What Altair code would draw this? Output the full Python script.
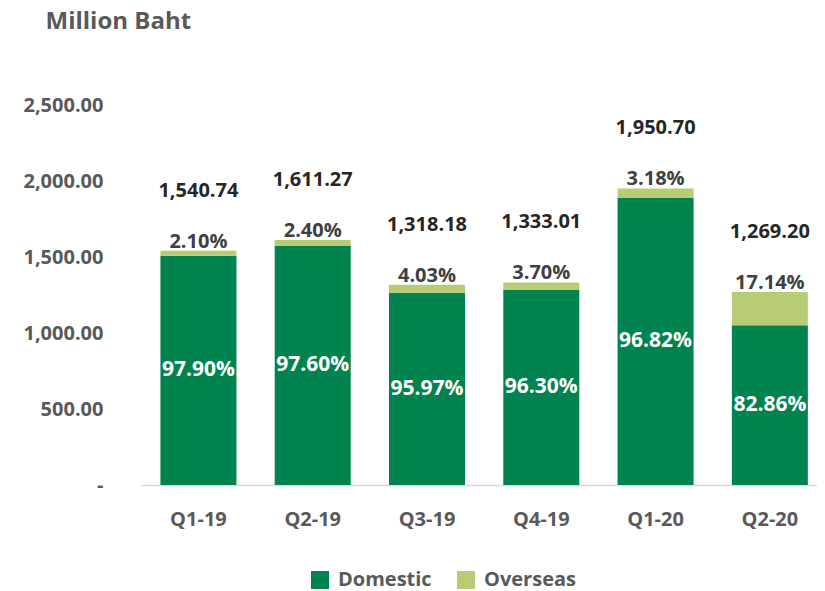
import altair as alt
import pandas as pd

quarters = ["Q1-19", "Q2-19", "Q3-19", "Q4-19", "Q1-20", "Q2-20"]
totals = [1540.74, 1611.27, 1318.18, 1333.01, 1950.70, 1269.20]
overseas_pct = [2.10, 2.40, 4.03, 3.70, 3.18, 17.14]
domestic_pct = [97.90, 97.60, 95.97, 96.30, 96.82, 82.86]
segments = ["Domestic", "Overseas"]
colors = ["#00834F", "#B8CC74"]

rows = []
for q, t, op, dp in zip(quarters, totals, overseas_pct, domestic_pct):
    rows.append({"quarter": q, "segment": "Domestic", "value": t * dp / 100, "ord": 0})
    rows.append({"quarter": q, "segment": "Overseas", "value": t * op / 100, "ord": 1})
long_df = pd.DataFrame(rows)

wide_df = pd.DataFrame({
    "quarter": quarters,
    "total": totals,
    "op": overseas_pct,
    "dp": domestic_pct,
})

FONT = "Open Sans"
GRAY = "#595959"

x_enc = alt.X(
    "quarter:N",
    sort=quarters,
    title=None,
    scale=alt.Scale(paddingInner=0.335, paddingOuter=0.125, align=0.68),
    axis=alt.Axis(
        labelAngle=0, labelFont=FONT, labelFontSize=20, labelFontWeight="bold",
        labelColor=GRAY, labelPadding=24, ticks=False, domainColor="#D9D9D9",
        domainWidth=1.5,
    ),
)

bars = alt.Chart(long_df).mark_bar().encode(
    x=x_enc,
    y=alt.Y(
        "value:Q",
        stack="zero",
        title="Million Baht",
        scale=alt.Scale(domain=[0, 2500], nice=False),
        axis=alt.Axis(
            values=[0, 500, 1000, 1500, 2000, 2500],
            labelExpr="datum.value == 0 ? '-' : format(datum.value, ',.2f')",
            labelFont=FONT, labelFontSize=20, labelFontWeight="bold", labelColor=GRAY,
            labelPadding=38, ticks=False, domain=False, grid=False,
            titleAngle=0, titleAlign="left", titleBaseline="top",
            titleX=-96, titleY=-96, titleFont=FONT, titleFontSize=24,
            titleFontWeight="bold", titleColor=GRAY,
        ),
    ),
    color=alt.Color(
        "segment:N",
        scale=alt.Scale(domain=segments, range=colors),
        legend=alt.Legend(
            title=None, orient="none", direction="horizontal",
            legendX=169, legendY=465, symbolType="square", symbolSize=324,
            symbolStrokeWidth=0, labelFont=FONT, labelFontSize=20,
            labelFontWeight="bold", labelColor=GRAY, columnPadding=24,
            labelOffset=8,
        ),
    ),
    order=alt.Order("ord:Q"),
)

base = alt.Chart(wide_df).transform_calculate(
    mid="datum.total * datum.dp / 200",
    op_label="format(datum.op, '.2f') + '%'",
    dp_label="format(datum.dp, '.2f') + '%'",
)

total_text = base.mark_text(
    font=FONT, fontSize=20, fontWeight="bold", color="#262626", dy=-60,
    baseline="middle",
).encode(x=alt.X("quarter:N", sort=quarters), y="total:Q", text=alt.Text("total:Q", format=",.2f"))

op_text = base.mark_text(
    font=FONT, fontSize=20, fontWeight="bold", color="#404040", dy=-9,
    baseline="middle",
).encode(x=alt.X("quarter:N", sort=quarters), y="total:Q", text="op_label:N")

dp_text = base.mark_text(
    font=FONT, fontSize=21, fontWeight="bold", color="white", baseline="middle",
).encode(x=alt.X("quarter:N", sort=quarters), y="mid:Q", text="dp_label:N")

chart = alt.layer(bars, total_text, op_text, dp_text).properties(
    width=676,
    height=380,
    autosize=alt.AutoSizeParams(type="none"),
    padding={"left": 133, "top": 97, "right": 0, "bottom": 106},
).configure_view(stroke=None)

chart.save("out.html", embed_options={"renderer": "svg", "actions": False})
